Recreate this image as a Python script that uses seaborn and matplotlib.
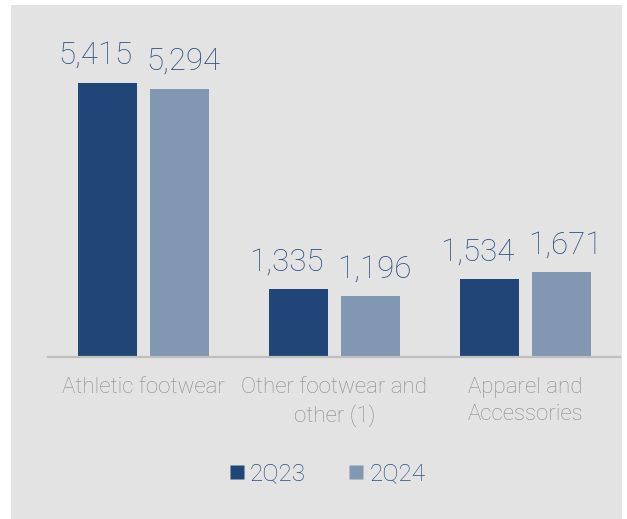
import matplotlib
matplotlib.use("Agg")
import matplotlib.pyplot as plt
from matplotlib.patches import Rectangle
from matplotlib.lines import Line2D
import seaborn as sns
import pandas as pd

categories = ["Athletic footwear", "Other footwear and\nother (1)", "Apparel and\nAccessories"]
series_names = ["2Q23", "2Q24"]
values_2q23 = [5415, 1335, 1534]
values_2q24 = [5294, 1196, 1671]

colors = ["#1f4677", "#8197b2"]
label_color = "#2b4f80"
tick_color = "#8a8a8a"
bg = "#e3e3e3"

df = pd.DataFrame({
    "category": categories * 2,
    "period": [series_names[0]] * 3 + [series_names[1]] * 3,
    "value": values_2q23 + values_2q24,
})

sns.set_theme(style="white")
plt.rcParams["font.family"] = ["Roboto", "DejaVu Sans"]

W, H = 627, 519
fig = plt.figure(figsize=(W / 100, H / 100), dpi=100, facecolor="white")
fig.patches.append(Rectangle((11 / W, 0), (622 - 11) / W, (H - 5) / H,
                             transform=fig.transFigure, facecolor=bg,
                             edgecolor="none", zorder=-10))

ax = fig.add_axes([48 / W, (H - 357) / H, (620 - 48) / W, (357 - 5) / H])
ax.set_zorder(2)
ax.set_facecolor("none")

sns.barplot(data=df, x="category", y="value", hue="period",
            palette=colors, width=0.754, gap=0.18, ax=ax,
            legend=False, saturation=1, edgecolor="none")

ymax = 5415 * (352 / 274)
ax.set_ylim(0, ymax)
ax.set_xlim(-0.5, 2.495)

# value labels, the two series nudged apart so they do not touch
x_nudge_pt = [-9, 3]
for cont, dx in zip(ax.containers, x_nudge_pt):
    for rect, v in zip(cont.patches, cont.datavalues):
        ax.annotate(f"{v:,.0f}", (rect.get_x() + rect.get_width() / 2, rect.get_height()),
                    xytext=(dx, 9.5), textcoords="offset points",
                    ha="center", va="bottom", fontsize=22.5,
                    color=label_color, fontweight="light")

for s in ["top", "left", "right"]:
    ax.spines[s].set_visible(False)
ax.spines["bottom"].set_color("#bfbfbf")
ax.spines["bottom"].set_linewidth(1.6)
ax.set_yticks([])
ax.set_xlabel("")
ax.set_ylabel("")
ax.tick_params(axis="x", length=0, pad=14.5, labelsize=16, labelcolor=tick_color)
for t in ax.get_xticklabels():
    t.set_fontweight("light")
    t.set_linespacing(1.35)

handles = [Line2D([0], [0], marker="s", linestyle="none", markersize=10.5,
                  markerfacecolor=c, markeredgecolor="none") for c in colors]
leg = fig.legend(handles, series_names, loc="center", bbox_to_anchor=(325 / W, (H - 474) / H),
                 ncol=2, frameon=False, fontsize=17.5, handletextpad=0.05,
                 columnspacing=1.55, handlelength=1.0)
leg.set_zorder(3)
for t in leg.get_texts():
    t.set_color(label_color)
    t.set_fontweight("light")

fig.savefig("out.png", dpi=100, facecolor="white")
